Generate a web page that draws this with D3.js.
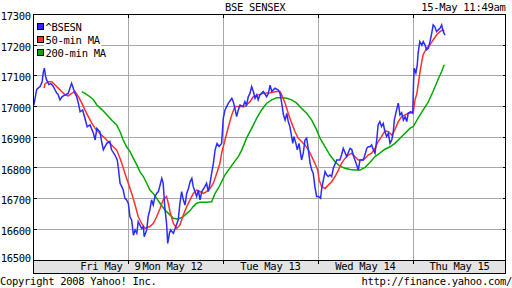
<!DOCTYPE html>
<html><head><meta charset="utf-8">
<script src="https://cdn.jsdelivr.net/npm/d3@7"></script>
<style>
html,body{margin:0;padding:0;background:#fff;overflow:hidden}
text{font-family:"DejaVu Sans Mono",monospace;font-size:10.5px;letter-spacing:-0.3px;fill:#000}
</style></head><body>
<svg id="c" width="512" height="288"></svg>
<script>
// ---- data ----
const titleText = "BSE SENSEX";
const stampText = "15-May 11:49am";
const copyrightText = "Copyright 2008 Yahoo! Inc.";
const urlText = "http://finance.yahoo.com/";
const yTicks = [16500,16600,16700,16800,16900,17000,17100,17200,17300];
const sessionMinutes = 335;            // 9:55 - 15:30
const dayBreaks = [335,670,1005,1340]; // minutes since Fri open
const xLabels = ["Fri May  9","Mon May 12","Tue May 13","Wed May 14","Thu May 15"];
const xLabelAt = [272,491,836,1171,1503];
const seriesNames = ["^BSESN","50-min MA","200-min MA"];
const seriesColors = ["#2b2bff","#ff3030","#00aa00"];

const priceT = [2,12,17,24,31,35,39,43,47,55,62,69,77,83,87,94,101,112,123,129,135,141,147,153,159,165,174,182,190,200,212,218,224,235,241,247,259,270,276,288,296,300,306,312,317,323,329,335,341,347,353,359,365,370,376,382,388,391,400,405,411,417,423,429,435,441,447,453,458,464,470,474,480,484,494,500,511,517,523,529,535,541,547,553,559,564,570,576,582,588,594,605,611,617,623,629,635,641,648,655,664,670,676,688,700,705,711,717,723,729,740,746,752,758,764,770,776,782,788,793,799,811,823,829,835,841,852,864,870,876,882,888,894,899,905,911,915,919,926,931,937,946,952,958,964,970,976,982,987,993,999,1006,1013,1017,1023,1029,1035,1040,1046,1052,1058,1070,1081,1087,1093,1105,1117,1123,1128,1140,1146,1152,1164,1176,1181,1187,1193,1199,1205,1211,1216,1222,1228,1234,1240,1246,1252,1258,1264,1269,1273,1281,1287,1293,1299,1305,1311,1317,1322,1331,1338,1341,1343,1349,1354,1357,1363,1370,1375,1381,1387,1393,1399,1405,1410,1416,1422,1428,1434,1440,1444,1448,1452];
const priceV = [17005,17056,17060,17065,17080,17110,17125,17100,17087,17072,17075,17068,17054,17043,17040,17022,17032,17038,17043,17060,17076,17060,17043,17032,17011,16983,16989,16962,16934,16940,16913,16891,16929,16918,16886,16859,16880,16886,16859,16842,16826,16799,16750,16739,16728,16701,16696,16685,16641,16630,16581,16598,16587,16625,16614,16603,16609,16576,16598,16641,16663,16696,16679,16707,16717,16723,16744,16766,16750,16668,16619,16554,16587,16598,16587,16603,16630,16685,16723,16696,16679,16717,16733,16755,16766,16739,16723,16707,16728,16696,16723,16739,16750,16723,16750,16783,16815,16859,16880,16870,16880,16962,16989,17011,17027,17016,16994,16967,16989,17005,17000,17016,17005,17032,17043,17065,17049,17027,17038,17022,17038,17049,17032,17043,17070,17049,17060,17054,17043,17011,16973,16956,16978,16951,16934,16902,16880,16902,16880,16859,16880,16826,16848,16891,16897,16859,16815,16793,16783,16739,16707,16707,16701,16733,16761,16788,16777,16772,16777,16772,16799,16826,16826,16842,16864,16837,16864,16860,16842,16810,16793,16826,16826,16864,16869,16869,16875,16859,16848,16891,16940,16951,16935,16945,16918,16902,16913,16880,16891,16913,16956,16989,17011,16973,16980,16956,16967,16951,16978,16983,16978,17081,17125,17110,17136,17174,17212,17200,17212,17201,17185,17190,17212,17239,17266,17260,17244,17250,17255,17266,17250,17239,17233];

const ma50T = [38,41,53,65,77,88,100,112,123,135,147,159,171,182,194,206,218,229,241,253,264,282,294,306,312,323,335,347,359,370,382,394,411,423,435,447,458,470,476,482,494,506,517,529,541,553,564,576,588,600,611,623,635,647,658,664,676,688,700,711,729,746,764,776,793,811,835,858,870,876,888,899,911,923,934,946,958,970,982,993,1003,1008,1017,1029,1040,1052,1064,1076,1087,1099,1111,1123,1134,1146,1158,1170,1181,1193,1205,1216,1228,1240,1252,1264,1275,1287,1299,1311,1322,1334,1340,1346,1352,1357,1363,1370,1375,1387,1399,1410,1422,1434,1444,1449];
const ma50V = [17060,17074,17081,17081,17070,17060,17049,17038,17035,17043,17049,17032,17011,16989,16967,16946,16929,16918,16907,16897,16886,16869,16859,16831,16815,16783,16750,16717,16679,16641,16619,16603,16609,16619,16641,16668,16696,16707,16685,16658,16619,16603,16614,16647,16674,16696,16717,16728,16723,16717,16723,16733,16750,16783,16815,16848,16891,16934,16973,17000,17000,17000,17016,17032,17038,17043,17045,17049,17049,17038,17011,16978,16946,16918,16897,16886,16875,16859,16837,16815,16793,16761,16739,16733,16744,16755,16772,16793,16815,16831,16842,16848,16837,16826,16826,16831,16842,16848,16864,16886,16902,16921,16918,16907,16924,16951,16967,16973,16978,16980,16982,17022,17040,17070,17109,17147,17170,17190,17201,17217,17233,17244,17250,17245];

const ma200T = [171,182,200,212,224,241,259,276,294,306,317,329,341,353,365,376,388,400,411,423,435,447,464,482,494,506,517,529,541,553,564,576,588,611,629,641,652,664,676,688,705,723,735,752,770,788,805,823,841,858,876,894,911,929,946,964,982,999,1011,1029,1046,1064,1081,1099,1117,1134,1152,1170,1187,1205,1222,1240,1258,1275,1293,1311,1328,1340,1357,1375,1393,1410,1428,1440,1449];
const ma200V = [17049,17043,17032,17022,17005,16991,16973,16956,16940,16918,16891,16869,16853,16831,16810,16788,16772,16750,16728,16717,16701,16685,16663,16647,16636,16634,16636,16641,16652,16661,16674,16685,16688,16688,16690,16717,16733,16755,16777,16793,16815,16837,16858,16897,16929,16962,16989,17011,17022,17029,17029,17027,17022,17011,16994,16978,16956,16924,16897,16869,16842,16820,16806,16799,16795,16793,16793,16802,16818,16837,16848,16861,16869,16880,16897,16913,16929,16935,16962,16989,17015,17050,17090,17114,17136];

// ---- layout ----
const svg = d3.select("#c");
const L = 33.3, R = 505.5, T = 14.5, B = 260, BAND_B = 273;
const x = d3.scaleLinear().domain([0, 5*sessionMinutes]).range([L, L + 95*5]);
const y = d3.scaleLinear().domain([16500, 17300]).range([B, T]);
const px = v => Math.floor(v) + 0.5;

svg.append("rect").attr("width",512).attr("height",288).attr("fill","#fff");

// title & stamp
svg.append("text").attr("x",225).attr("y",10.5).text(titleText);
svg.append("text").attr("x",505.5).attr("y",10.5).attr("text-anchor","end").text(stampText);

// gridlines
const gGrid = svg.append("g").attr("stroke","#a8a8a8").attr("stroke-width",1).attr("shape-rendering","crispEdges");
yTicks.filter(v => v>16500 && v<17300).forEach(v => {
  gGrid.append("line").attr("x1",px(L)).attr("x2",R).attr("y1",px(y(v))).attr("y2",px(y(v)));
});
dayBreaks.forEach(m => {
  gGrid.append("line").attr("x1",px(x(m))).attr("x2",px(x(m))).attr("y1",px(T)).attr("y2",px(B));
});

// clip
svg.append("clipPath").attr("id","clip").append("rect")
  .attr("x",px(L)).attr("y",px(T)).attr("width",R-px(L)).attr("height",px(B)-px(T));

const mkLine = d3.line().x(d => x(d[0])).y(d => y(d[1]));
const series = [
  d3.zip(priceT, priceV),
  d3.zip(ma50T, ma50V),
  d3.zip(ma200T, ma200V)
];
const gLines = svg.append("g").attr("clip-path","url(#clip)");
[2,1,0].forEach(i => {
  gLines.append("path").datum(series[i]).attr("d", mkLine)
    .attr("fill","none").attr("stroke",seriesColors[i]).attr("stroke-width",1.5)
    .attr("stroke-linejoin","miter");
});

// legend
const gLeg = svg.append("g");
seriesNames.forEach((n,i) => {
  const cy = 27 + i*13;
  const t = gLeg.append("text").attr("x",45.5).attr("y",cy+4).text(n);
  const w = t.node().getComputedTextLength();
  gLeg.insert("rect","text").attr("x",44).attr("y",cy-6).attr("width",w+3).attr("height",12).attr("fill","#fff");
  gLeg.append("rect").attr("x",37.5).attr("y",cy-3.5).attr("width",6).attr("height",6)
    .attr("fill",seriesColors[i]).attr("stroke","#000").attr("stroke-width",1).attr("shape-rendering","crispEdges");
});

// x band
svg.append("rect").attr("x",px(L)).attr("y",px(B)).attr("width",R-px(L)).attr("height",px(BAND_B)-px(B))
  .attr("fill","#e3e3e3").attr("stroke","#000").attr("stroke-width",1).attr("shape-rendering","crispEdges");

// frame
svg.append("rect").attr("x",px(L)).attr("y",px(T)).attr("width",R-px(L)).attr("height",px(B)-px(T))
  .attr("fill","none").attr("stroke","#000").attr("stroke-width",1).attr("shape-rendering","crispEdges");

// ticks
const gTick = svg.append("g").attr("stroke","#000").attr("stroke-width",1).attr("shape-rendering","crispEdges");
yTicks.forEach(v => {
  const yy = px(y(v));
  gTick.append("line").attr("x1",px(L)).attr("x2",px(L)+3).attr("y1",yy).attr("y2",yy);
  gTick.append("line").attr("x1",R-3).attr("x2",R).attr("y1",yy).attr("y2",yy);
});
dayBreaks.forEach(m => {
  const xx = px(x(m));
  gTick.append("line").attr("x1",xx).attr("x2",xx).attr("y1",px(T)).attr("y2",px(T)+3);
  gTick.append("line").attr("x1",xx).attr("x2",xx).attr("y1",px(B)).attr("y2",px(B)+3);
});

// y labels
yTicks.forEach(v => {
  const yy = y(v);
  const base = v === 16500 ? yy + 1.6 : yy + 5.6;
  svg.append("text").attr("x",30.8).attr("y",base).attr("text-anchor","end").text(v);
});

// x labels
xLabels.forEach((s,i) => {
  svg.append("text").attr("x",x(xLabelAt[i])).attr("y",270.3).attr("text-anchor","middle")
    .style("white-space","pre").text(s);
});

// footer
svg.append("text").attr("x",0).attr("y",284.5).text(copyrightText);
svg.append("text").attr("x",512).attr("y",284.5).attr("text-anchor","end").text(urlText);
</script>
</body></html>
